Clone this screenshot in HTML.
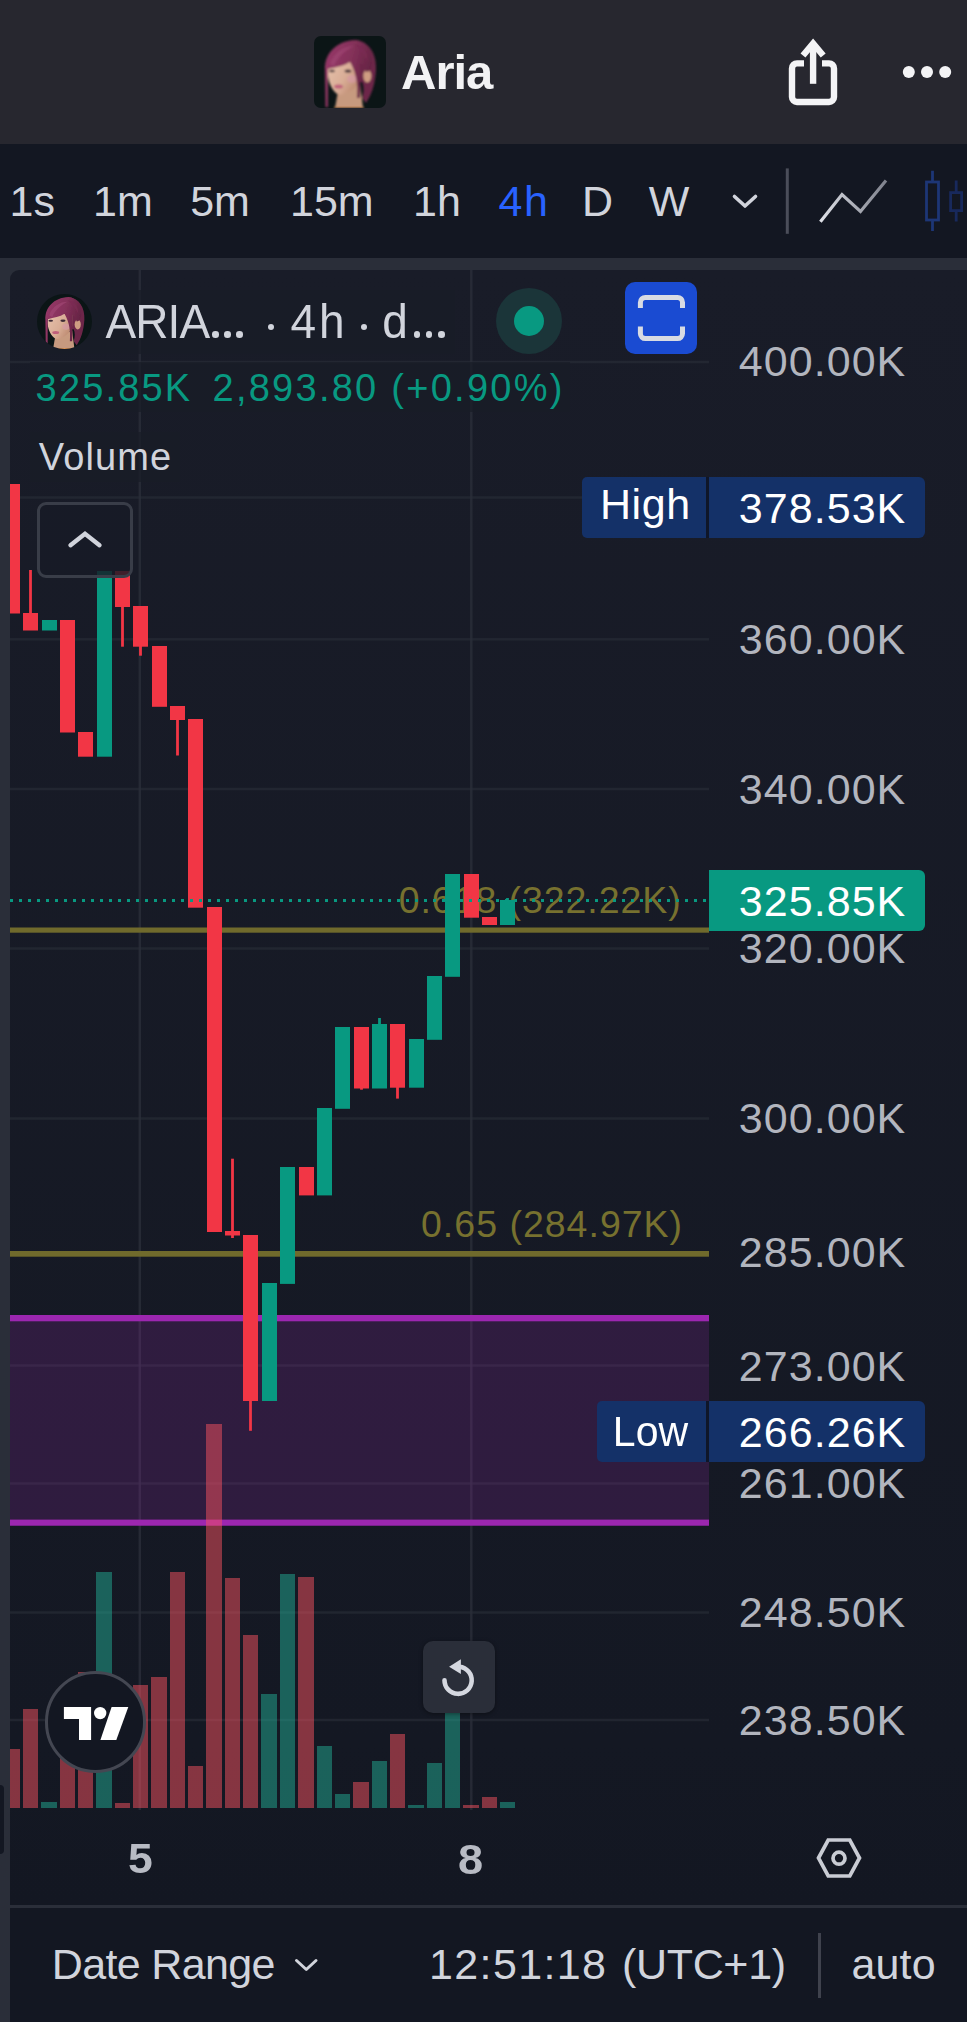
<!DOCTYPE html>
<html><head><meta charset="utf-8"><title>Aria</title>
<style>
html,body{margin:0;padding:0;background:#131722;}
body{width:967px;height:2022px;position:relative;overflow:hidden;font-family:"Liberation Sans",sans-serif;}
.abs{position:absolute}
.t{position:absolute;white-space:nowrap;font-family:"Liberation Sans",sans-serif;}
.lb{position:absolute}
</style></head><body>
<!-- header -->
<div class="abs" style="left:0;top:0;width:967px;height:143.5px;background:#27272f"></div>
<div class="abs" style="left:314px;top:36px;width:72px;height:72px;border-radius:7px;overflow:hidden"><svg viewBox="0 0 72 72" width="100%" height="100%" preserveAspectRatio="xMidYMid slice">
<defs><filter id="bla" x="-10%" y="-10%" width="120%" height="120%"><feGaussianBlur stdDeviation="0.8"/></filter><linearGradient id="hga" x1="0" y1="0" x2="1" y2="0.4"><stop offset="0" stop-color="#98396a"/><stop offset="0.55" stop-color="#85315a"/><stop offset="1" stop-color="#642343"/></linearGradient><linearGradient id="fga" x1="0" y1="0" x2="1" y2="0.6"><stop offset="0" stop-color="#e6c1ab"/><stop offset="0.6" stop-color="#d9ad96"/><stop offset="1" stop-color="#bd8a70"/></linearGradient></defs>
<rect width="72" height="72" fill="#0b1516"/>
<g filter="url(#bla)">
<path d="M41 4 C55 5 63 18 62 34 C61 48 58 58 52 67 L48 62 C50 56 50 50 48 46 L44 46 L42 22 Z" fill="#6d2849"/>
<path d="M24 55 L21 72 L49 72 L46 48 Z" fill="#c79a7f"/>
<path d="M20 71 L50 71 L50 72 L20 72 Z" fill="#e0914a"/>
<ellipse cx="53.3" cy="40" rx="4" ry="6.5" fill="#cf9d82"/>
<path d="M14 33 C13 42 16 50 20 55 C23 59 27 60 31 58 C38 55 44 50 46 42 L46 26 L20 26 Z" fill="url(#fga)"/>
<ellipse cx="38" cy="43" rx="5" ry="4" fill="#d79aa8" opacity=".65"/>
<path d="M11 34 C10 18 22 5 41 4 C52 5 58 14 58 26 C58 32 56 36 52 36 C50 30 48 28 46 27 C46 40 47 52 46 62 L43 62 C44 50 43 38 36 26 C30 30 22 31 14 33 L14 71 L11.5 71 Z" fill="url(#hga)"/>
<path d="M16 28 C20 16 30 10 40 10 C32 14 24 20 20 30 Z" fill="#a04674" opacity=".7"/>
<path d="M40 8 C48 9 54 16 54 26 C50 18 46 13 40 8 Z" fill="#7a2c52" opacity=".8"/>
<ellipse cx="18" cy="35" rx="3" ry="1.3" fill="#3d2a35"/>
<ellipse cx="34" cy="35" rx="3.4" ry="1.5" fill="#3d2a35"/>
<ellipse cx="24.5" cy="50.5" rx="4.5" ry="2" fill="#bf5f7b"/>
</g>
</svg></div>
<svg class="abs" style="left:780px;top:30px" width="187" height="90" viewBox="780 30 187 90">
 <path d="M804 63.4 H797 a5 5 0 0 0 -5 5 V97 a5 5 0 0 0 5 5 H829 a5 5 0 0 0 5 -5 V68.4 a5 5 0 0 0 -5 -5 H822" fill="none" stroke="#f4f4f6" stroke-width="6.4"/>
 <path d="M813.1 83.8 V44" fill="none" stroke="#f4f4f6" stroke-width="6.4"/>
 <path d="M803 55.5 L813.1 43.5 L823.2 55.5" fill="none" stroke="#f4f4f6" stroke-width="6.4" stroke-linejoin="miter"/>
 <circle cx="908.8" cy="72" r="6" fill="#f4f4f6"/><circle cx="927" cy="72" r="6" fill="#f4f4f6"/><circle cx="945.2" cy="72" r="6" fill="#f4f4f6"/>
</svg>
<!-- toolbar -->
<div class="abs" style="left:0;top:143.5px;width:967px;height:114.5px;background:#131722"></div>
<svg class="abs" style="left:720px;top:150px" width="247" height="100" viewBox="720 150 247 100">
 <defs><linearGradient id="lg" x1="820" x2="886" y1="0" y2="0" gradientUnits="userSpaceOnUse"><stop offset="0" stop-color="#dfe1e8"/><stop offset="1" stop-color="#7e818c"/></linearGradient></defs>
 <path d="M734.5 196.5 L745 206 L755.5 196.5" fill="none" stroke="#d1d4dc" stroke-width="3.6" stroke-linecap="round" stroke-linejoin="round"/>
 <rect x="785.8" y="168.4" width="3" height="65.4" fill="#4b4e5a"/>
 <path d="M820.4 221.8 L842 194.5 L860.5 211.4 L886 180.6" fill="none" stroke="url(#lg)" stroke-width="3.2"/>
 <g fill="none" stroke="#1d3676" stroke-width="2.8"><rect x="926.5" y="182" width="12" height="38"/><path d="M932.5 170.7V182M932.5 220V231"/></g>
 <g fill="none" stroke="#18295c" stroke-width="2.8"><rect x="950.6" y="192.6" width="11" height="18"/><path d="M956.2 180.6V192.6M956.2 210.6V221.4"/></g>
</svg>
<!-- separator strip -->
<div class="abs" style="left:0;top:258px;width:967px;height:1764px;background:#2a2e39"></div>
<!-- chart pane -->
<div class="abs" style="left:10px;top:270px;width:957px;height:1635.5px;background:linear-gradient(#191c28,#141823 90%,#131722);border-radius:9px 0 0 0"></div>
<div class="abs" style="left:10px;top:1908px;width:957px;height:114px;background:#131722"></div>
<div class="abs" style="left:0;top:1784.7px;width:3.8px;height:69.5px;background:#131722;border-radius:0 4px 4px 0"></div>
<svg class="abs" style="left:0;top:0" width="967" height="2022" viewBox="0 0 967 2022">
<rect x="10" y="360.75" width="699" height="2.5" fill="#2a2e39" opacity="0.6"/>
<rect x="10" y="496.25" width="699" height="2.5" fill="#2a2e39" opacity="0.6"/>
<rect x="10" y="638.05" width="699" height="2.5" fill="#2a2e39" opacity="0.6"/>
<rect x="10" y="787.75" width="699" height="2.5" fill="#2a2e39" opacity="0.6"/>
<rect x="10" y="947.25" width="699" height="2.5" fill="#2a2e39" opacity="0.6"/>
<rect x="10" y="1117.25" width="699" height="2.5" fill="#2a2e39" opacity="0.6"/>
<rect x="10" y="1252.75" width="699" height="2.5" fill="#2a2e39" opacity="0.6"/>
<rect x="10" y="1364.25" width="699" height="2.5" fill="#2a2e39" opacity="0.6"/>
<rect x="10" y="1482.25" width="699" height="2.5" fill="#2a2e39" opacity="0.6"/>
<rect x="10" y="1611.25" width="699" height="2.5" fill="#2a2e39" opacity="0.6"/>
<rect x="10" y="1718.75" width="699" height="2.5" fill="#2a2e39" opacity="0.6"/>
<rect x="138.55" y="270" width="2.5" height="1540" fill="#2a2e39" opacity="0.8"/>
<rect x="470.05" y="270" width="2.5" height="1540" fill="#2a2e39" opacity="0.8"/>
<rect x="10" y="1315" width="699" height="210.7" fill="#9c27b0" fill-opacity="0.2"/>
<rect x="10" y="1315" width="699" height="6.3" fill="#9c27b0"/>
<rect x="10" y="1519.6" width="699" height="6.1" fill="#9c27b0"/>
<rect x="10" y="927.5" width="699" height="5.2" fill="#706a2c"/>
<rect x="10" y="1251" width="699" height="5.7" fill="#706a2c"/>
<rect x="10" y="1749" width="10" height="59" fill="#f7525f" fill-opacity="0.5"/>
<rect x="23" y="1709" width="15" height="99" fill="#f7525f" fill-opacity="0.5"/>
<rect x="41" y="1802" width="16" height="6" fill="#22ab94" fill-opacity="0.5"/>
<rect x="60" y="1745" width="15" height="63" fill="#f7525f" fill-opacity="0.5"/>
<rect x="78" y="1672" width="15" height="136" fill="#f7525f" fill-opacity="0.5"/>
<rect x="96" y="1572" width="16" height="236" fill="#22ab94" fill-opacity="0.5"/>
<rect x="115" y="1803" width="15" height="5" fill="#f7525f" fill-opacity="0.5"/>
<rect x="133" y="1685" width="15" height="123" fill="#f7525f" fill-opacity="0.5"/>
<rect x="151" y="1677" width="16" height="131" fill="#f7525f" fill-opacity="0.5"/>
<rect x="170" y="1572" width="15" height="236" fill="#f7525f" fill-opacity="0.5"/>
<rect x="188" y="1766" width="15" height="42" fill="#f7525f" fill-opacity="0.5"/>
<rect x="206" y="1424" width="16" height="384" fill="#f7525f" fill-opacity="0.5"/>
<rect x="225" y="1578" width="15" height="230" fill="#f7525f" fill-opacity="0.5"/>
<rect x="243" y="1635" width="15" height="173" fill="#f7525f" fill-opacity="0.5"/>
<rect x="261" y="1694" width="16" height="114" fill="#22ab94" fill-opacity="0.5"/>
<rect x="280" y="1574" width="15" height="234" fill="#22ab94" fill-opacity="0.5"/>
<rect x="298" y="1577" width="16" height="231" fill="#f7525f" fill-opacity="0.5"/>
<rect x="317" y="1746" width="15" height="62" fill="#22ab94" fill-opacity="0.5"/>
<rect x="335" y="1794" width="15" height="14" fill="#22ab94" fill-opacity="0.5"/>
<rect x="353" y="1782" width="16" height="26" fill="#f7525f" fill-opacity="0.5"/>
<rect x="372" y="1761" width="15" height="47" fill="#22ab94" fill-opacity="0.5"/>
<rect x="390" y="1734" width="15" height="74" fill="#f7525f" fill-opacity="0.5"/>
<rect x="408" y="1805" width="16" height="3" fill="#22ab94" fill-opacity="0.5"/>
<rect x="427" y="1763" width="15" height="45" fill="#22ab94" fill-opacity="0.5"/>
<rect x="445" y="1690" width="15" height="118" fill="#22ab94" fill-opacity="0.5"/>
<rect x="463" y="1805" width="16" height="3" fill="#f7525f" fill-opacity="0.5"/>
<rect x="482" y="1797" width="15" height="11" fill="#f7525f" fill-opacity="0.5"/>
<rect x="500" y="1802" width="15" height="6" fill="#22ab94" fill-opacity="0.5"/>
</svg>
<div class="t" style="left:398.7px;top:882.46px;font-size:37.5px;line-height:37.5px;color:#77712f;letter-spacing:0.93px;">0.618 (322.22K)</div>
<div class="t" style="left:421px;top:1206.26px;font-size:37.5px;line-height:37.5px;color:#77712f;letter-spacing:1.0px;">0.65 (284.97K)</div>
<svg class="abs" style="left:0;top:0" width="967" height="2022" viewBox="0 0 967 2022">
<rect x="10" y="484" width="10" height="129.5" fill="#f23645"/>
<rect x="29.1" y="570" width="2.8" height="44" fill="#f23645"/>
<rect x="23" y="613" width="15" height="17.5" fill="#f23645"/>
<rect x="42" y="620" width="15" height="10.5" fill="#089981"/>
<rect x="60" y="620" width="15" height="112.5" fill="#f23645"/>
<rect x="78" y="732" width="15" height="24.700000000000045" fill="#f23645"/>
<rect x="97" y="571" width="15" height="185.70000000000005" fill="#089981"/>
<rect x="121.1" y="606" width="2.8" height="40.700000000000045" fill="#f23645"/>
<rect x="115" y="571" width="15" height="36" fill="#f23645"/>
<rect x="139.1" y="645.7" width="2.8" height="10.0" fill="#f23645"/>
<rect x="133" y="606" width="15" height="40.700000000000045" fill="#f23645"/>
<rect x="152" y="646" width="15" height="60.799999999999955" fill="#f23645"/>
<rect x="176.1" y="719" width="2.8" height="36.5" fill="#f23645"/>
<rect x="170" y="706" width="15" height="14" fill="#f23645"/>
<rect x="188" y="719" width="15" height="188.70000000000005" fill="#f23645"/>
<rect x="207" y="907" width="15" height="325" fill="#f23645"/>
<rect x="231.1" y="1158.7" width="2.8" height="73.29999999999995" fill="#f23645"/>
<rect x="231.1" y="1234.5" width="2.8" height="3.5" fill="#f23645"/>
<rect x="225" y="1231" width="15" height="4.5" fill="#f23645"/>
<rect x="249.1" y="1400" width="2.8" height="30.799999999999955" fill="#f23645"/>
<rect x="243" y="1235" width="15" height="166" fill="#f23645"/>
<rect x="262" y="1283" width="15" height="118" fill="#089981"/>
<rect x="280" y="1167" width="15" height="116.90000000000009" fill="#089981"/>
<rect x="299" y="1167" width="15" height="28.40000000000009" fill="#f23645"/>
<rect x="317" y="1108" width="15" height="87.40000000000009" fill="#089981"/>
<rect x="335" y="1027" width="15" height="81.79999999999995" fill="#089981"/>
<rect x="360.1" y="1087.5" width="2.8" height="2.2000000000000455" fill="#f23645"/>
<rect x="354" y="1027" width="15" height="61.5" fill="#f23645"/>
<rect x="378.1" y="1018" width="2.8" height="7" fill="#089981"/>
<rect x="372" y="1024" width="15" height="64.5" fill="#089981"/>
<rect x="396.1" y="1086.7" width="2.8" height="11.899999999999864" fill="#f23645"/>
<rect x="390" y="1024" width="15" height="63.700000000000045" fill="#f23645"/>
<rect x="409" y="1039" width="15" height="48.700000000000045" fill="#089981"/>
<rect x="427" y="976" width="15" height="63.799999999999955" fill="#089981"/>
<rect x="445" y="874" width="15" height="102.79999999999995" fill="#089981"/>
<rect x="464" y="874" width="15" height="43.700000000000045" fill="#f23645"/>
<rect x="482" y="917" width="15" height="8" fill="#f23645"/>
<rect x="506.1" y="898" width="2.8" height="3" fill="#089981"/>
<rect x="500" y="900" width="15" height="25" fill="#089981"/>
<line x1="10" y1="900.5" x2="709" y2="900.5" stroke="#089981" stroke-width="3" stroke-dasharray="3 6"/>
</svg>
<div class="abs" style="left:30px;top:290px;width:425px;height:64px;background:rgba(24,28,39,0.7)"></div>
<div class="abs" style="left:30px;top:362px;width:540px;height:50px;background:rgba(24,28,39,0.7)"></div>
<div class="abs" style="left:30px;top:432px;width:150px;height:50px;background:rgba(24,28,39,0.7)"></div>
<div class="t" style="left:401px;top:47.52px;font-size:49px;line-height:49px;color:#f2f2f4;letter-spacing:-1px;font-weight:700;">Aria</div>
<div class="t" style="left:9.5px;top:179.60px;font-size:43px;line-height:43px;color:#d1d4dc;">1s</div>
<div class="t" style="left:93px;top:179.60px;font-size:43px;line-height:43px;color:#d1d4dc;">1m</div>
<div class="t" style="left:190.2px;top:179.60px;font-size:43px;line-height:43px;color:#d1d4dc;">5m</div>
<div class="t" style="left:290px;top:179.60px;font-size:43px;line-height:43px;color:#d1d4dc;">15m</div>
<div class="t" style="left:413px;top:179.60px;font-size:43px;line-height:43px;color:#d1d4dc;">1h</div>
<div class="t" style="left:498.5px;top:179.60px;font-size:43px;line-height:43px;color:#2962ff;letter-spacing:1.5px;">4h</div>
<div class="t" style="left:582px;top:179.60px;font-size:43px;line-height:43px;color:#d1d4dc;">D</div>
<div class="t" style="left:648.8px;top:179.60px;font-size:43px;line-height:43px;color:#d1d4dc;">W</div>
<div class="t" style="left:105.5px;top:298.86px;font-size:46px;line-height:46px;color:#d1d4dc;letter-spacing:-0.9px;transform:scale(1,1.045);transform-origin:0 38.94px;">ARIA</div>
<div class="t" style="left:290.5px;top:298.86px;font-size:46px;line-height:46px;color:#d1d4dc;letter-spacing:3px;transform:scale(1,1.045);transform-origin:0 38.94px;">4h</div>
<div class="t" style="left:382.3px;top:298.86px;font-size:46px;line-height:46px;color:#d1d4dc;transform:scale(1,1.045);transform-origin:0 38.94px;">d</div>
<div class="abs" style="left:212.20px;top:331.40px;width:6.6px;height:6.6px;border-radius:50%;background:#d1d4dc"></div>
<div class="abs" style="left:224.40px;top:331.40px;width:6.6px;height:6.6px;border-radius:50%;background:#d1d4dc"></div>
<div class="abs" style="left:236.30px;top:331.40px;width:6.6px;height:6.6px;border-radius:50%;background:#d1d4dc"></div>
<div class="abs" style="left:413.90px;top:331.40px;width:6.6px;height:6.6px;border-radius:50%;background:#d1d4dc"></div>
<div class="abs" style="left:425.80px;top:331.40px;width:6.6px;height:6.6px;border-radius:50%;background:#d1d4dc"></div>
<div class="abs" style="left:438.10px;top:331.40px;width:6.6px;height:6.6px;border-radius:50%;background:#d1d4dc"></div>
<div class="abs" style="left:267.80px;top:324.30px;width:6.2px;height:6.2px;border-radius:50%;background:#d1d4dc"></div>
<div class="abs" style="left:360.70px;top:324.30px;width:6.2px;height:6.2px;border-radius:50%;background:#d1d4dc"></div>
<div class="t" style="left:35.6px;top:369.23px;font-size:38px;line-height:38px;color:#089981;letter-spacing:2.17px;">325.85K</div>
<div class="t" style="left:212.5px;top:369.23px;font-size:38px;line-height:38px;color:#089981;letter-spacing:2.26px;">2,893.80 (+0.90%)</div>
<div class="t" style="left:38.8px;top:438.33px;font-size:38px;line-height:38px;color:#d1d4dc;letter-spacing:1.1px;">Volume</div>
<div class="t" style="left:738.8px;top:340.30px;font-size:43px;line-height:43px;color:#b2b5be;letter-spacing:1.05px;">400.00K</div>
<div class="t" style="left:738.8px;top:617.90px;font-size:43px;line-height:43px;color:#b2b5be;letter-spacing:1.05px;">360.00K</div>
<div class="t" style="left:738.8px;top:767.50px;font-size:43px;line-height:43px;color:#b2b5be;letter-spacing:1.05px;">340.00K</div>
<div class="t" style="left:738.8px;top:927.00px;font-size:43px;line-height:43px;color:#b2b5be;letter-spacing:1.05px;">320.00K</div>
<div class="t" style="left:738.8px;top:1096.60px;font-size:43px;line-height:43px;color:#b2b5be;letter-spacing:1.05px;">300.00K</div>
<div class="t" style="left:738.8px;top:1231.00px;font-size:43px;line-height:43px;color:#b2b5be;letter-spacing:1.05px;">285.00K</div>
<div class="t" style="left:738.8px;top:1344.60px;font-size:43px;line-height:43px;color:#b2b5be;letter-spacing:1.05px;">273.00K</div>
<div class="t" style="left:738.8px;top:1461.90px;font-size:43px;line-height:43px;color:#b2b5be;letter-spacing:1.05px;">261.00K</div>
<div class="t" style="left:738.8px;top:1590.60px;font-size:43px;line-height:43px;color:#b2b5be;letter-spacing:1.05px;">248.50K</div>
<div class="t" style="left:738.8px;top:1699.00px;font-size:43px;line-height:43px;color:#b2b5be;letter-spacing:1.05px;">238.50K</div>
<div class="t" style="left:128.3px;top:1838.45px;font-size:42px;line-height:42px;color:#b8bbc4;font-weight:700;transform:scale(1.06,1);transform-origin:0 35.55px;">5</div>
<div class="t" style="left:457.6px;top:1838.10px;font-size:43px;line-height:43px;color:#b8bbc4;font-weight:700;transform:scale(1.05,1);transform-origin:0 36.40px;">8</div>
<div class="t" style="left:51.8px;top:1943.40px;font-size:43px;line-height:43px;color:#d1d4dc;letter-spacing:-0.65px;">Date Range</div>
<div class="t" style="left:429px;top:1942.60px;font-size:43px;line-height:43px;color:#d1d4dc;letter-spacing:1.37px;">12:51:18</div>
<div class="t" style="left:622px;top:1942.60px;font-size:43px;line-height:43px;color:#d1d4dc;letter-spacing:-0.33px;">(UTC+1)</div>
<div class="t" style="left:851.6px;top:1942.60px;font-size:43px;line-height:43px;color:#d1d4dc;letter-spacing:0.1px;">auto</div>
<!-- legend widgets -->
<div class="abs" style="left:36.6px;top:293.6px;width:55px;height:55px;border-radius:50%;overflow:hidden"><svg viewBox="0 0 72 72" width="100%" height="100%" preserveAspectRatio="xMidYMid slice">
<defs><filter id="blb" x="-10%" y="-10%" width="120%" height="120%"><feGaussianBlur stdDeviation="0.8"/></filter><linearGradient id="hgb" x1="0" y1="0" x2="1" y2="0.4"><stop offset="0" stop-color="#98396a"/><stop offset="0.55" stop-color="#85315a"/><stop offset="1" stop-color="#642343"/></linearGradient><linearGradient id="fgb" x1="0" y1="0" x2="1" y2="0.6"><stop offset="0" stop-color="#e6c1ab"/><stop offset="0.6" stop-color="#d9ad96"/><stop offset="1" stop-color="#bd8a70"/></linearGradient></defs>
<rect width="72" height="72" fill="#0b1516"/>
<g filter="url(#blb)">
<path d="M41 4 C55 5 63 18 62 34 C61 48 58 58 52 67 L48 62 C50 56 50 50 48 46 L44 46 L42 22 Z" fill="#6d2849"/>
<path d="M24 55 L21 72 L49 72 L46 48 Z" fill="#c79a7f"/>
<path d="M20 71 L50 71 L50 72 L20 72 Z" fill="#e0914a"/>
<ellipse cx="53.3" cy="40" rx="4" ry="6.5" fill="#cf9d82"/>
<path d="M14 33 C13 42 16 50 20 55 C23 59 27 60 31 58 C38 55 44 50 46 42 L46 26 L20 26 Z" fill="url(#fgb)"/>
<ellipse cx="38" cy="43" rx="5" ry="4" fill="#d79aa8" opacity=".65"/>
<path d="M11 34 C10 18 22 5 41 4 C52 5 58 14 58 26 C58 32 56 36 52 36 C50 30 48 28 46 27 C46 40 47 52 46 62 L43 62 C44 50 43 38 36 26 C30 30 22 31 14 33 L14 71 L11.5 71 Z" fill="url(#hgb)"/>
<path d="M16 28 C20 16 30 10 40 10 C32 14 24 20 20 30 Z" fill="#a04674" opacity=".7"/>
<path d="M40 8 C48 9 54 16 54 26 C50 18 46 13 40 8 Z" fill="#7a2c52" opacity=".8"/>
<ellipse cx="18" cy="35" rx="3" ry="1.3" fill="#3d2a35"/>
<ellipse cx="34" cy="35" rx="3.4" ry="1.5" fill="#3d2a35"/>
<ellipse cx="24.5" cy="50.5" rx="4.5" ry="2" fill="#bf5f7b"/>
</g>
</svg></div>
<div class="abs" style="left:495.6px;top:288px;width:66px;height:66px;border-radius:50%;background:#1b3539"></div>
<div class="abs" style="left:513.7px;top:306px;width:30px;height:30px;border-radius:50%;background:#089981"></div>
<div class="abs" style="left:625.3px;top:282px;width:71.8px;height:72.2px;border-radius:10px;background:#1a4bd2"></div>
<svg class="abs" style="left:625.7px;top:282.4px" width="71" height="71" viewBox="625.7 282.4 71 71">
 <path d="M640.1 308.5 V302.8 a5 5 0 0 1 5 -5 H677.2 a5 5 0 0 1 5 5 V308.5 M640.1 327 V334 a5 5 0 0 0 5 5 H677.2 a5 5 0 0 0 5 -5 V327" fill="none" stroke="#d8dbe3" stroke-width="5"/>
</svg>
<!-- collapse button -->
<div class="abs" style="left:37.2px;top:501.6px;width:95.6px;height:76.6px;box-sizing:border-box;border:3px solid #393d48;border-radius:9px;background:rgba(23,27,38,0.82)"></div>
<svg class="abs" style="left:37px;top:501px" width="96" height="78" viewBox="37 501 96 78">
 <path d="M70.5 545.2 L85 533.8 L99.5 545.2" fill="none" stroke="#d1d4dc" stroke-width="4.4" stroke-linecap="round" stroke-linejoin="miter"/>
</svg>
<div class="lb" style="left:582px;top:476.9px;width:124.29999999999995px;height:60.89999999999998px;background:#143168;border-radius:5px 0 0 5px"></div>
<div class="lb" style="left:709px;top:476.9px;width:216.3px;height:60.89999999999998px;background:#143168;border-radius:0 6px 6px 0"></div>
<div class="lb" style="left:596.9px;top:1401.2px;width:109.39999999999998px;height:60.700000000000045px;background:#143168;border-radius:5px 0 0 5px"></div>
<div class="lb" style="left:709px;top:1401.2px;width:216.3px;height:60.700000000000045px;background:#143168;border-radius:0 6px 6px 0"></div>
<div class="lb" style="left:709px;top:870.3px;width:216.3px;height:60.700000000000045px;background:#089981;border-radius:0 6px 6px 0"></div>
<div class="lb" style="left:706.3px;top:476.9px;width:2.7px;height:60.9px;background:#0f1628"></div>
<div class="lb" style="left:706.3px;top:1401.2px;width:2.7px;height:60.7px;background:#0f1628"></div>
<div class="t" style="left:738.8px;top:486.90px;font-size:43px;line-height:43px;color:#fff;letter-spacing:1.05px;">378.53K</div>
<div class="t" style="left:738.8px;top:879.80px;font-size:43px;line-height:43px;color:#fff;letter-spacing:1.05px;">325.85K</div>
<div class="t" style="left:738.8px;top:1410.80px;font-size:43px;line-height:43px;color:#fff;letter-spacing:1.05px;">266.26K</div>
<div class="t" style="left:600px;top:483.40px;font-size:43px;line-height:43px;color:#fff;letter-spacing:0.57px;">High</div>
<div class="t" style="left:612.8px;top:1412.39px;font-size:41px;line-height:41px;color:#fff;letter-spacing:0.1px;transform:scaleY(1.05);transform-origin:0 34.71px;">Low</div>
<!-- TV logo -->
<div class="abs" style="left:44.7px;top:1671px;width:101.6px;height:101.6px;box-sizing:border-box;border-radius:50%;background:#131722;border:3.5px solid #444752"></div>
<svg class="abs" style="left:44px;top:1670px" width="104" height="104" viewBox="44 1670 104 104">
 <path d="M63.9 1706.9 H91.1 V1740 H79 V1719 H63.9 Z" fill="#fff"/>
 <circle cx="100.2" cy="1713.1" r="6.2" fill="#fff"/>
 <path d="M111.6 1706.9 H128.3 L116.3 1740 H100.4 Z" fill="#fff"/>
</svg>
<!-- reset button -->
<div class="abs" style="left:422.9px;top:1640.9px;width:72.1px;height:72.1px;border-radius:10px;background:#2a2e39;box-shadow:0 1px 4px rgba(0,0,0,0.4)"></div>
<svg class="abs" style="left:422px;top:1640px" width="74" height="74" viewBox="422 1640 74 74">
 <path d="M459.5 1666.7 A13.6 13.6 0 1 1 444.5 1680.2" fill="none" stroke="#d5d8e0" stroke-width="4.6" stroke-linecap="round"/>
 <path d="M449.1 1666.7 L460.9 1659.3 V1674 Z" fill="#d5d8e0"/>
</svg>
<!-- time axis / footer -->
<div class="abs" style="left:10px;top:1905px;width:957px;height:3px;background:#2a2e39"></div>
<svg class="abs" style="left:810px;top:1830px" width="60" height="56" viewBox="810 1830 60 56">
 <path d="M818.5 1858 L828.2 1840 H849.8 L859.5 1858 L849.8 1876 H828.2 Z" fill="none" stroke="#c9ccd4" stroke-width="3.7" stroke-linejoin="miter"/>
 <circle cx="839" cy="1858.2" r="6" fill="none" stroke="#c9ccd4" stroke-width="3.7"/>
</svg>
<svg class="abs" style="left:290px;top:1950px" width="40" height="30" viewBox="290 1950 40 30">
 <path d="M296.5 1960.5 L306.3 1969.5 L316 1960.5" fill="none" stroke="#d1d4dc" stroke-width="3" stroke-linecap="round" stroke-linejoin="round"/>
</svg>
<div class="abs" style="left:818px;top:1932.5px;width:3px;height:65.5px;background:#3f424d"></div>
</body></html>
